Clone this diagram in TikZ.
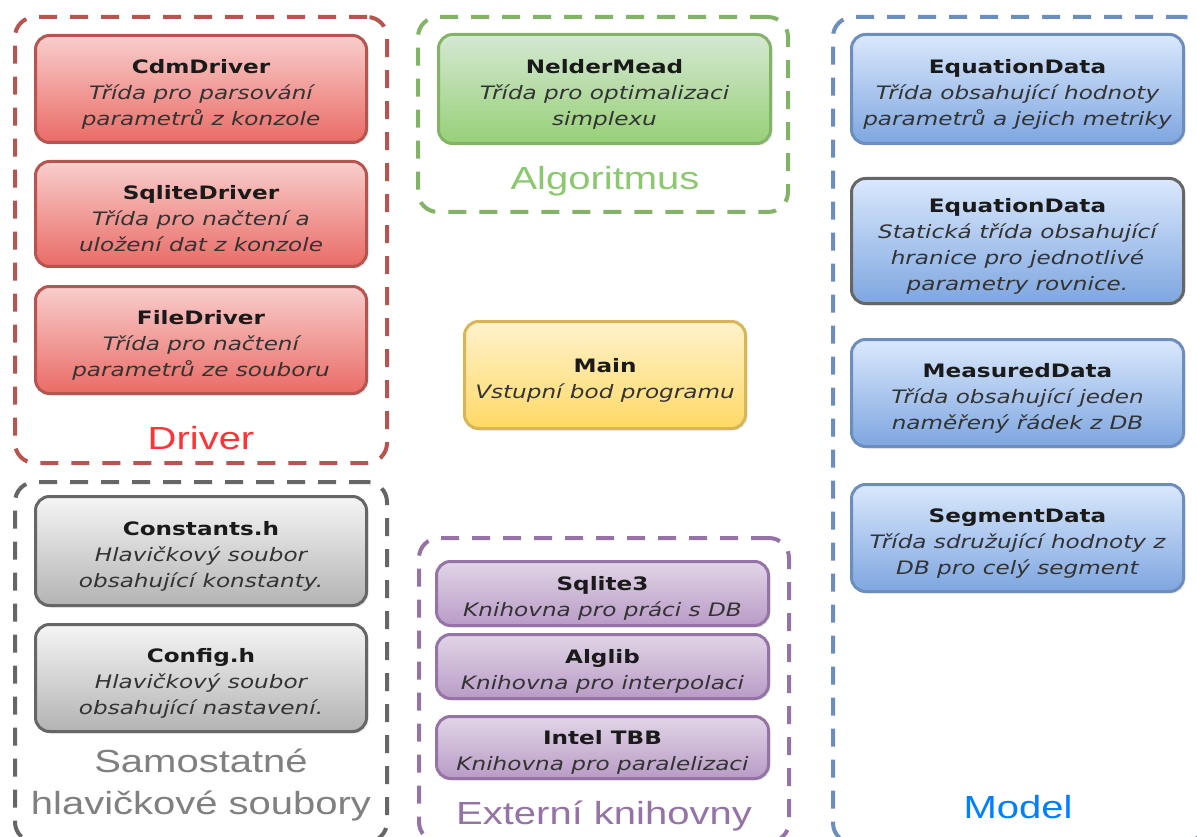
\documentclass[tikz,border=0pt]{standalone}
\usepackage{fontspec}
\setmainfont{DejaVu Sans}[FakeStretch=1.25]
\newfontfamily\grpfont{Liberation Sans}[FakeStretch=1.25]
\usetikzlibrary{shadows}
\definecolor{rS}{HTML}{B85450}\definecolor{rT}{HTML}{F8CECC}\definecolor{rB}{HTML}{EA6B66}
\definecolor{gS}{HTML}{82B366}\definecolor{gT}{HTML}{D5E8D4}\definecolor{gB}{HTML}{97D077}
\definecolor{yS}{HTML}{D6B656}\definecolor{yT}{HTML}{FFF2CC}\definecolor{yB}{HTML}{FFD966}
\definecolor{bS}{HTML}{6C8EBF}\definecolor{bT}{HTML}{DAE8FC}\definecolor{bB}{HTML}{7EA6E0}
\definecolor{kS}{HTML}{666666}\definecolor{kT}{HTML}{F5F5F5}\definecolor{kB}{HTML}{B3B3B3}
\definecolor{pS}{HTML}{9673A6}\definecolor{pT}{HTML}{E1D5E7}\definecolor{pB}{HTML}{B99BC6}
\definecolor{ttlcol}{HTML}{1A1A1A}\definecolor{dsccol}{HTML}{333333}
\definecolor{lblRed}{HTML}{FF3333}\definecolor{lblGrn}{HTML}{8CC870}
\definecolor{lblGry}{HTML}{808080}\definecolor{lblPur}{HTML}{9673A6}\definecolor{lblBlu}{HTML}{007FFF}
\newcommand\ttl[1]{{\rule{0pt}{24pt}\upshape\bfseries\color{ttlcol}#1}}
\tikzset{
  cls/.style={rounded corners=14pt, line width=3pt, align=center, inner sep=0pt,
    text=dsccol, font=\fontsize{18.5}{26}\selectfont\itshape,
    drop shadow={opacity=0.18, shadow xshift=2pt, shadow yshift=-2pt}},
  redcls/.style={cls, draw=rS, top color=rT, bottom color=rB},
  grncls/.style={cls, draw=gS, top color=gT, bottom color=gB},
  yelcls/.style={cls, draw=yS, top color=yT, bottom color=yB},
  blucls/.style={cls, draw=bS, top color=bT, bottom color=bB},
  blugcls/.style={cls, draw=kS, top color=bT, bottom color=bB},
  grycls/.style={cls, draw=kS, top color=kT, bottom color=kB},
  purcls/.style={cls, draw=pS, top color=pT, bottom color=pB},
  grp/.style={rounded corners=20pt, line width=4pt, dash pattern=on 18pt off 13pt, inner sep=0pt},
  grplbl/.style={font=\grpfont\fontsize{32}{42}\selectfont, align=center, inner sep=0pt}
}
\begin{document}
\begin{tikzpicture}[x=1pt,y=-1pt]
\useasboundingbox (0,0) rectangle (1197,837);
\clip (0,0) rectangle (1197,837);
\fill[white] (0,0) rectangle (1197,837);
% groups
\node[grp, draw=rS, minimum width=372pt, minimum height=446pt] (gDriver) at (201,240) {};
\node[grp, draw=kS, minimum width=372pt, minimum height=360pt] (gHdr) at (201,662) {};
\node[grp, draw=gS, minimum width=370pt, minimum height=195pt] (gAlg) at (603,114.5) {};
\node[grp, draw=pS, minimum width=370pt, minimum height=304pt] (gExt) at (604,690) {};
\node[grp, draw=bS, minimum width=371pt, minimum height=826pt] (gModel) at (1018.5,430) {};
% group labels
\node[grplbl, text=lblRed] (lDriver) at (201,438) {Driver};
\node[grplbl, text=lblGrn] (lAlg) at (605,181) {Algoritmus};
\node[grplbl, text=lblGry] (lHdr) at (201,785) {Samostatné\\hlavičkové soubory};
\node[grplbl, text=lblPur] (lExt) at (604,816) {Externí knihovny};
\node[grplbl, text=lblBlu] (lModel) at (1018,807) {Model};
% driver
\node[redcls, minimum width=331pt, minimum height=107pt] (cdm) at (201,89) {\ttl{CdmDriver}\\Třída pro parsování\\parametrů z konzole};
\node[redcls, minimum width=331pt, minimum height=105pt] (sqld) at (201,214) {\ttl{SqliteDriver}\\Třída pro načtení a\\uložení dat z konzole};
\node[redcls, minimum width=331pt, minimum height=107pt] (filed) at (201,340) {\ttl{FileDriver}\\Třída pro načtení\\parametrů ze souboru};
% headers
\node[grycls, minimum width=331pt, minimum height=109pt] (const) at (201,551) {\ttl{Constants.h}\\Hlavičkový soubor\\obsahující konstanty.};
\node[grycls, minimum width=331pt, minimum height=107pt] (config) at (201,678) {\ttl{Config.h}\\Hlavičkový soubor\\obsahující nastavení.};
% algorithm
\node[grncls, minimum width=332pt, minimum height=109pt] (nelder) at (604.5,89) {\ttl{NelderMead}\\Třída pro optimalizaci\\simplexu};
% main
\node[yelcls, minimum width=281pt, minimum height=107pt] (main) at (605,375) {\ttl{Main}\\Vstupní bod programu};
% external
\node[purcls, minimum width=332pt, minimum height=64pt] (sqlite) at (602.5,593.5) {\ttl{Sqlite3}\\Knihovna pro práci s DB};
\node[purcls, minimum width=332pt, minimum height=64pt] (alglib) at (602.5,666.5) {\ttl{Alglib}\\Knihovna pro interpolaci};
\node[purcls, minimum width=332pt, minimum height=62pt] (tbb) at (602.5,747.5) {\ttl{Intel TBB}\\Knihovna pro paralelizaci};
% model
\node[blucls, minimum width=332pt, minimum height=109pt] (eq1) at (1017.5,89) {\ttl{EquationData}\\Třída obsahující hodnoty\\parametrů a jejich metriky};
\node[blugcls, minimum width=332pt, minimum height=125pt] (eq2) at (1017.5,241) {\ttl{EquationData}\\Statická třída obsahující\\hranice pro jednotlivé\\parametry rovnice.};
\node[blucls, minimum width=332pt, minimum height=107pt] (meas) at (1017.5,393) {\ttl{MeasuredData}\\Třída obsahující jeden\\naměřený řádek z DB};
\node[blucls, minimum width=332pt, minimum height=107pt] (seg) at (1017.5,538) {\ttl{SegmentData}\\Třída sdružující hodnoty z\\DB pro celý segment};
\end{tikzpicture}
\end{document}
